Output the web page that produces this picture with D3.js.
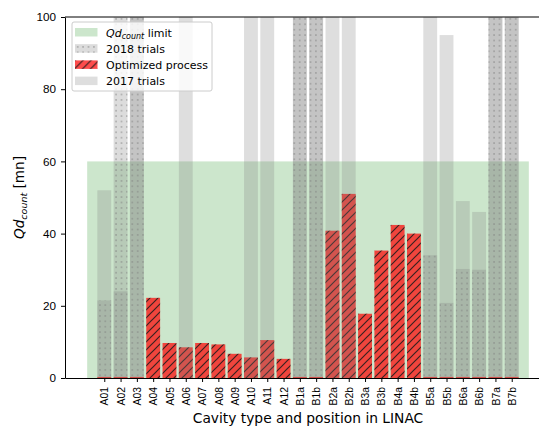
<!DOCTYPE html>
<html>
<head>
<meta charset="utf-8">
<script src="https://cdn.jsdelivr.net/npm/d3@7"></script>
<style>
  body { margin: 0; background: #fff; }
  svg { font-family: "DejaVu Sans", sans-serif; display: block; }
</style>
</head>
<body>
<div id="chart"></div>
<script>
// cavity labels along the linac
const categories = ["A01","A02","A03","A04","A05","A06","A07","A08","A09","A10","A11","A12",
  "B1a","B1b","B2a","B2b","B3a","B3b","B4a","B4b","B5a","B5b","B6a","B6b","B7a","B7b"]

// Qd count values [mn]
const optimized = [0.3,0.3,0.3,22.2,9.7,8.5,9.7,9.3,6.7,5.7,10.5,5.3,
  0.3,0.3,40.8,51,17.8,35.3,42.4,40,0.3,0.3,0.3,0.3,0.3,0.3]
const trials2018 = [21.5,100,100,0,0,0,0,0,0,0,0,0,
  100,100,0,0,0,0,0,0,34,20.8,30.2,30,100,100]
const trials2017 = [52,24,100,0,0,100,0,0,0,100,100,0,
  100,100,100,100,0,0,0,0,100,95,49,46,100,100]

const limitValue = 60
const yTicks = [0, 20, 40, 60, 80, 100]

const WIDTH = 539
const HEIGHT = 426
const mLeft = 65, mRight = 551, mTop = 17, mBottom = 378
const barW = 0.85

const svg = d3.select("#chart").append("svg")
  .attr("width", WIDTH)
  .attr("height", HEIGHT)

const defs = svg.append("defs")

// hatch '//' for the optimized bars
const hatch = defs.append("pattern")
  .attr("id", "hatchRed")
  .attr("patternUnits", "userSpaceOnUse")
  .attr("width", 8).attr("height", 8)
hatch.append("path")
  .attr("d", "M0,8 L8,0 M-2,2 L2,-2 M6,10 L10,6")
  .attr("stroke", "#1a1a1a").attr("stroke-opacity", 0.85)
  .attr("stroke-width", 1.2)

// hatch '..' for 2018
const dots = defs.append("pattern")
  .attr("id", "hatchDots")
  .attr("patternUnits", "userSpaceOnUse")
  .attr("width", 5.4).attr("height", 5.4)
dots.append("circle")
  .attr("cx", 2.7).attr("cy", 2.7).attr("r", 0.9)
  .attr("fill", "#7a7a7a").attr("fill-opacity", 0.55)

const x = d3.scaleLinear().domain([-2.41, 27.41]).range([mLeft, mRight])
const y = d3.scaleLinear().domain([0, 100]).range([mBottom, mTop])
const bw = x(barW) - x(0)

const plot = svg.append("g")

// limit area
plot.append("rect")
  .attr("x", x(-1.05))
  .attr("y", y(limitValue))
  .attr("width", x(26.05) - x(-1.05))
  .attr("height", y(0) - y(limitValue))
  .attr("fill", "green")
  .attr("fill-opacity", 0.2)

const idx = d3.range(categories.length)

// 2018 trials
const g18 = plot.append("g")
g18.selectAll("rect.fill")
  .data(idx.filter(i => trials2018[i] > 0))
  .join("rect")
    .attr("class", "fill")
    .attr("x", i => x(i) - bw / 2)
    .attr("y", i => y(trials2018[i]))
    .attr("width", bw)
    .attr("height", i => y(0) - y(trials2018[i]))
    .attr("fill", "gray")
    .attr("fill-opacity", 0.28)
g18.selectAll("rect.hatch")
  .data(idx.filter(i => trials2018[i] > 0))
  .join("rect")
    .attr("class", "hatch")
    .attr("x", i => x(i) - bw / 2)
    .attr("y", i => y(trials2018[i]))
    .attr("width", bw)
    .attr("height", i => y(0) - y(trials2018[i]))
    .attr("fill", "url(#hatchDots)")

// optimized process
const gOpt = plot.append("g")
gOpt.selectAll("rect.fill")
  .data(idx.filter(i => optimized[i] > 0))
  .join("rect")
    .attr("class", "fill")
    .attr("x", i => x(i) - bw / 2)
    .attr("y", i => y(optimized[i]))
    .attr("width", bw)
    .attr("height", i => y(0) - y(optimized[i]))
    .attr("fill", "red")
    .attr("fill-opacity", 0.7)
gOpt.selectAll("rect.hatch")
  .data(idx.filter(i => optimized[i] > 2))
  .join("rect")
    .attr("class", "hatch")
    .attr("x", i => x(i) - bw / 2)
    .attr("y", i => y(optimized[i]))
    .attr("width", bw)
    .attr("height", i => y(0) - y(optimized[i]))
    .attr("fill", "url(#hatchRed)")

// 2017 trials
plot.append("g").selectAll("rect")
  .data(idx.filter(i => trials2017[i] > 0))
  .join("rect")
    .attr("x", i => x(i) - bw / 2)
    .attr("y", i => y(trials2017[i]))
    .attr("width", bw)
    .attr("height", i => y(0) - y(trials2017[i]))
    .attr("fill", "gray")
    .attr("fill-opacity", 0.26)

// axes
const yAxis = svg.append("g")
  .attr("transform", `translate(${mLeft},0)`)
  .call(d3.axisLeft(y).tickValues(yTicks).tickSize(4).tickSizeOuter(0).tickPadding(5))
yAxis.selectAll("text").attr("font-size", 11.7).attr("fill", "#000")

const xAxis = svg.append("g")
  .attr("transform", `translate(0,${mBottom})`)
  .call(d3.axisBottom(x).tickValues(idx).tickFormat(i => categories[i])
    .tickSize(4).tickSizeOuter(0))
xAxis.selectAll("text")
  .attr("font-size", 10.4)
  .attr("fill", "#000")
  .attr("transform", "rotate(-90)")
  .attr("text-anchor", "end")
  .attr("x", -9)
  .attr("y", 0)
  .attr("dy", "0.35em")

svg.selectAll(".domain").attr("stroke", "#000").attr("stroke-width", 1)
svg.selectAll(".tick line").attr("stroke", "#000").attr("stroke-width", 1)

svg.append("line")
  .attr("x1", mLeft).attr("x2", mRight)
  .attr("y1", mTop).attr("y2", mTop)
  .attr("stroke", "#000").attr("stroke-width", 1)

// labels
svg.append("text")
  .attr("x", 308)
  .attr("y", 423)
  .attr("text-anchor", "middle")
  .attr("font-size", 13.8)
  .text("Cavity type and position in LINAC")

const yl = svg.append("text")
  .attr("transform", `translate(24,${(mTop + mBottom) / 2}) rotate(-90)`)
  .attr("text-anchor", "middle")
  .attr("font-size", 13.6)
yl.append("tspan").attr("font-style", "italic").text("Qd")
yl.append("tspan").attr("font-style", "italic").attr("font-size", 9.5).attr("dy", 3).text("count")
yl.append("tspan").attr("dy", -3).text(" [mn]")

// legend
const lg = svg.append("g").attr("transform", "translate(72,22)")
lg.append("rect")
  .attr("width", 140).attr("height", 69)
  .attr("rx", 2)
  .attr("fill", "#fff").attr("fill-opacity", 0.8)
  .attr("stroke", "#ccc")

const items = [
  { key: "limit" },
  { key: "2018", label: "2018 trials" },
  { key: "opt", label: "Optimized process" },
  { key: "2017", label: "2017 trials" }
]
items.forEach((d, k) => {
  const row = lg.append("g").attr("transform", `translate(3,${6 + k * 16.2})`)
  const sw = () => row.append("rect").attr("width", 22.5).attr("height", 8.5)
  if (d.key === "limit") {
    sw().attr("fill", "green").attr("fill-opacity", 0.2)
  } else if (d.key === "2018") {
    sw().attr("fill", "gray").attr("fill-opacity", 0.28)
    sw().attr("fill", "url(#hatchDots)")
  } else if (d.key === "opt") {
    sw().attr("fill", "red").attr("fill-opacity", 0.7)
    sw().attr("fill", "url(#hatchRed)")
  } else {
    sw().attr("fill", "gray").attr("fill-opacity", 0.26)
  }
  const t = row.append("text")
    .attr("x", 31).attr("y", 8.5)
    .attr("font-size", 11)
  if (d.key === "limit") {
    t.append("tspan").attr("font-style", "italic").text("Qd")
    t.append("tspan").attr("font-style", "italic").attr("font-size", 8).attr("dy", 2.5).text("count")
    t.append("tspan").attr("dy", -2.5).text(" limit")
  } else {
    t.text(d.label)
  }
})
</script>
</body>
</html>
